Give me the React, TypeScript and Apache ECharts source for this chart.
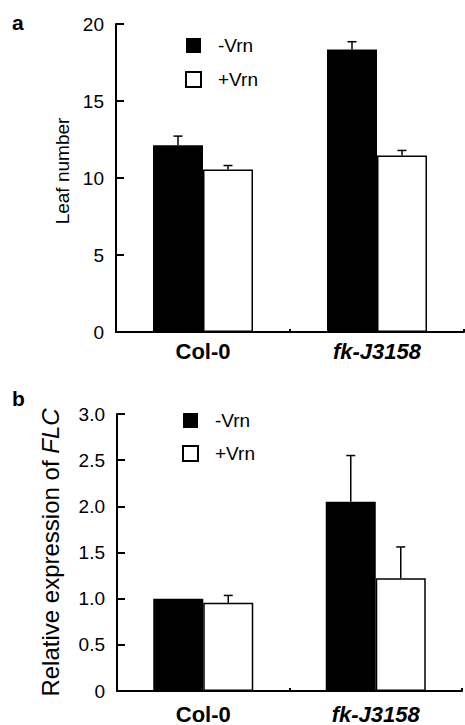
import React, { useEffect, useRef } from "react";
import * as echarts from "echarts";

const categories = ["Col-0", "fk-J3158"];
const seriesNames = ["-Vrn", "+Vrn"];
// panel a: leaf number
const leafMinus = [12.13, 18.35];
const leafMinusErr = [0.59, 0.5];
const leafPlus = [10.55, 11.46];
const leafPlusErr = [0.26, 0.33];
// panel b: relative expression of FLC
const flcMinus = [1.0, 2.05];
const flcMinusErr = [0, 0.5];
const flcPlus = [0.955, 1.22];
const flcPlusErr = [0.08, 0.34];
const leafTicks = { min: 0, max: 20, interval: 5 };
const flcTicks = { min: 0, max: 3, interval: 0.5 };

const FONT = "Liberation Sans, Arial, sans-serif";
const BAR_W = 50;

function errSeries(name: string, vals: number[], errs: number[], offset: number, axis: number) {
  return {
    type: "custom",
    name,
    xAxisIndex: axis,
    yAxisIndex: axis,
    z: 10,
    silent: true,
    data: vals.map((v, i) => [i, v, errs[i]]),
    renderItem: (params: any, api: any) => {
      const e = api.value(2);
      if (!e) return { type: "group", children: [] };
      const p = api.coord([api.value(0), api.value(1)]);
      const q = api.coord([api.value(0), api.value(1) + e]);
      const x = p[0] + offset;
      const style = { stroke: "#000", lineWidth: 1.5 };
      return {
        type: "group",
        children: [
          { type: "line", shape: { x1: x, y1: p[1], x2: x, y2: q[1] }, style },
          { type: "line", shape: { x1: x - 4.5, y1: q[1], x2: x + 4.5, y2: q[1] }, style },
        ],
      };
    },
  };
}

function xAxis(grid: number, margin: number) {
  return {
    type: "category",
    gridIndex: grid,
    data: [
      { value: categories[0] },
      { value: categories[1], textStyle: { fontStyle: "italic" } },
    ],
    axisLine: { lineStyle: { color: "#000", width: 2 } },
    axisTick: { show: true, inside: true, length: 3, lineStyle: { color: "#000", width: 2 } },
    axisLabel: { color: "#000", fontSize: 22, fontWeight: "bold", fontFamily: FONT, margin },
    splitLine: { show: false },
  };
}

function yAxis(grid: number, t: any, name: string, nameGap: number, nameSize: number, fmt: any, extra: any = {}) {
  return {
    type: "value",
    gridIndex: grid,
    min: t.min,
    max: t.max,
    interval: t.interval,
    name,
    nameLocation: "middle",
    nameGap,
    nameRotate: 90,
    nameTextStyle: { color: "#000", fontSize: nameSize, fontFamily: FONT, ...extra },
    axisLine: { show: true, lineStyle: { color: "#000", width: 2 } },
    axisTick: { show: true, inside: true, length: 8, lineStyle: { color: "#000", width: 2 } },
    axisLabel: { color: "#000", fontSize: 19, fontFamily: FONT, margin: 12, formatter: fmt },
    splitLine: { show: false },
  };
}

function bars(name: string, vals: number[], axis: number, white: boolean) {
  return {
    type: "bar",
    name,
    xAxisIndex: axis,
    yAxisIndex: axis,
    barWidth: BAR_W,
    barGap: "0%",
    data: vals,
    itemStyle: white
      ? { color: "#fff", borderColor: "#000", borderWidth: 1.5 }
      : { color: "#000", borderColor: "#000", borderWidth: 0 },
  };
}

function legend(left: number, top: number, gap: number) {
  return {
    orient: "vertical",
    left,
    top,
    itemWidth: 15,
    itemHeight: 15,
    itemGap: gap,
    icon: "rect",
    data: seriesNames,
    selectedMode: false,
    textStyle: { color: "#000", fontSize: 19, fontFamily: FONT, padding: [0, 0, 0, 12] },
  };
}

export default function App() {
  const ref = useRef<HTMLDivElement>(null);
  useEffect(() => {
    if (!ref.current) return;
    const chart = echarts.init(ref.current, undefined, { renderer: "svg" });
    chart.setOption({
      animation: false,
      backgroundColor: "#fff",
      grid: [
        { left: 116, top: 24, width: 348, height: 308 },
        { left: 117, top: 414, width: 345, height: 278 },
      ],
      legend: [legend(180, 31, 15), legend(177, 406, 14)],
      xAxis: [xAxis(0, 8), xAxis(1, 12)],
      yAxis: [
        yAxis(0, leafTicks, "Leaf number", 44, 19, (v: number) => String(v), { padding: [0, 0, 0, 14] }),
        yAxis(1, flcTicks, "{n|Relative expression of }{i|FLC}", 55, 24,
          (v: number) => (v === 0 ? "0" : v.toFixed(1)),
          { rich: { n: { fontSize: 24, fontFamily: FONT, color: "#000" }, i: { fontSize: 24, fontFamily: FONT, color: "#000", fontStyle: "italic" } } }),
      ],
      graphic: [
        { type: "text", left: 12, top: 12, style: { text: "a", fontSize: 21, fontWeight: "bold", fontFamily: FONT, fill: "#000" } },
        { type: "text", left: 12, top: 388, style: { text: "b", fontSize: 21, fontWeight: "bold", fontFamily: FONT, fill: "#000" } },
      ],
      series: [
        bars(seriesNames[0], leafMinus, 0, false),
        bars(seriesNames[1], leafPlus, 0, true),
        bars(seriesNames[0], flcMinus, 1, false),
        bars(seriesNames[1], flcPlus, 1, true),
        errSeries("errA1", leafMinus, leafMinusErr, -BAR_W / 2, 0),
        errSeries("errA2", leafPlus, leafPlusErr, BAR_W / 2, 0),
        errSeries("errB1", flcMinus, flcMinusErr, -BAR_W / 2, 1),
        errSeries("errB2", flcPlus, flcPlusErr, BAR_W / 2, 1),
      ],
    });
    return () => chart.dispose();
  }, []);
  return (
    <div
      ref={ref}
      style={{ position: "absolute", left: 0, top: 0, width: 465, height: 725 }}
    />
  );
}
